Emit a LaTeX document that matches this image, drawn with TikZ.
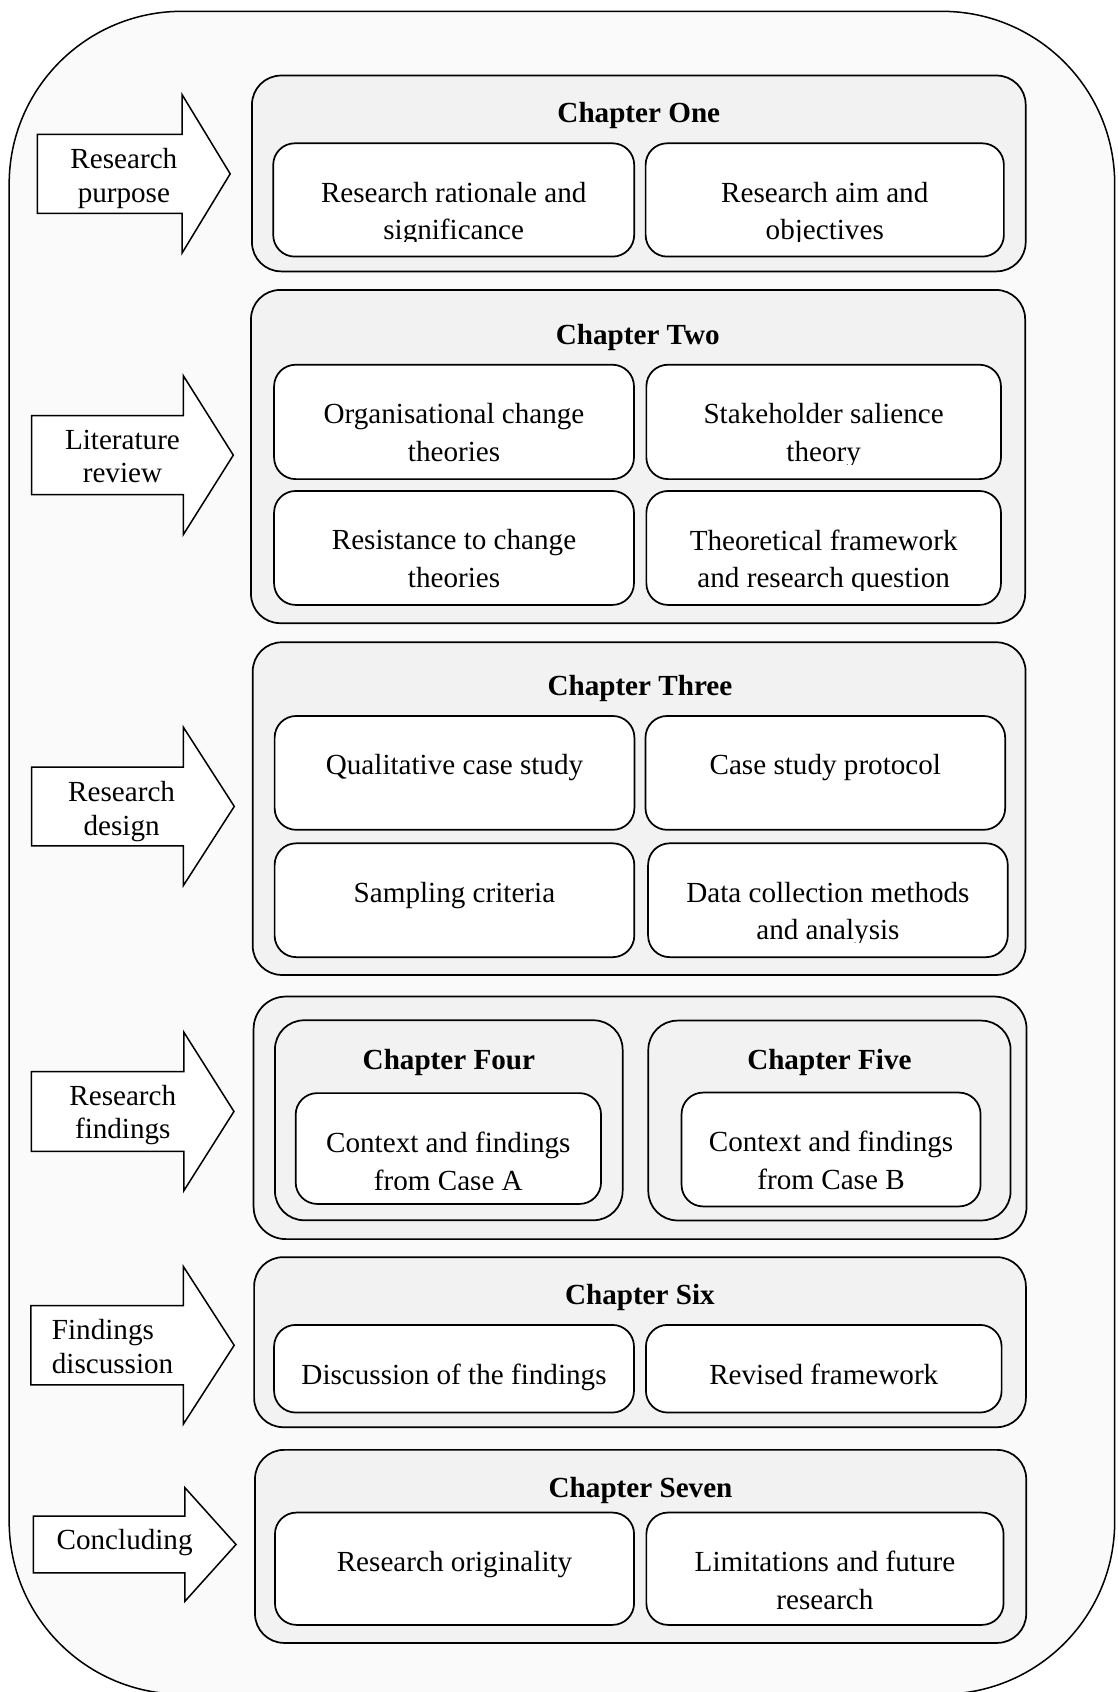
\documentclass[tikz,border=0pt]{standalone}
\usepackage{fontspec}
\setmainfont{Liberation Serif}
\usetikzlibrary{fit}

\definecolor{framefill}{HTML}{FAFAFA}
\definecolor{chapfill}{HTML}{F2F2F2}

\tikzset{
  outerframe/.style={draw=black, line width=1.4pt, fill=framefill, rounded corners=160pt, inner sep=0pt},
  chapbox/.style={draw=black, line width=1.6pt, fill=chapfill, rounded corners=27pt, inner sep=0pt},
  cellbox/.style={draw=black, line width=1.6pt, fill=white, rounded corners=20pt, inner sep=0pt},
  celltext/.style={inner sep=0pt, align=center, font=\fontsize{27}{35}\selectfont},
  chaptitle/.style={inner sep=0pt, anchor=base, font=\fontsize{27}{35}\selectfont\bfseries},
  stagearrow/.style={draw=black, line width=1.4pt, fill=white, line join=miter},
  stagetext/.style={inner sep=0pt, align=center, font=\fontsize{27}{31}\selectfont},
}

% white cell with its label; the label is clipped a little above the cell's lower edge
\newcommand\cell[6]{%
  \node[cellbox, fit={(#2,#3) (#4,#5)}] (#1) {};
  \begin{scope}
    \clip ([yshift=14.5pt]#1.south west) rectangle (#1.north east);
    \node[celltext, anchor=north] (#1-label) at ([yshift=-36.4pt]#1.north) {#6};
  \end{scope}}

% block arrow: left x, neck x, tip x, middle y, half body height, half head height
\newcommand\stagearrow[6]{%
  \draw[stagearrow] ({#1},{#4-#5}) -- ({#2},{#4-#5}) -- ({#2},{#4-#6}) -- ({#3},{#4})
    -- ({#2},{#4+#6}) -- ({#2},{#4+#5}) -- ({#1},{#4+#5}) -- cycle;}

\begin{document}
\begin{tikzpicture}[x=1pt, y=-1pt]
\useasboundingbox (0,0) rectangle (1036,1568);

% outer frame
\node[outerframe, fit={(8.5,10.5) (1033,1570)}] (frame) {};

% ---- stage arrows ----
\stagearrow{34.7}{168.8}{213.3}{161.1}{36.6}{73.3}
\node[stagetext, anchor=north] (purpose) at (114.8,137.4) {Research\\purpose};

\stagearrow{29.3}{169.9}{216.2}{421.8}{36.6}{73.6}
\node[stagetext, anchor=north] (review) at (113.5,398.2) {Literature\\review};

\stagearrow{29.3}{169.9}{217.1}{747.3}{36.5}{73.4}
\node[stagetext, anchor=north] (design) at (112.7,724.1) {Research\\design};

\stagearrow{29.1}{170.4}{216.8}{1030}{37}{73.4}
\node[stagetext, anchor=north] (findings) at (113.8,1005.2) {Research\\findings};

\stagearrow{28.7}{170}{217}{1246.7}{36.7}{72.9}
\node[stagetext, anchor=north west, align=left] (discussion) at (47.9,1222.8) {Findings\\discussion};

\stagearrow{30.9}{171.4}{218.7}{1431.3}{26.3}{52.6}
\node[stagetext, anchor=base] (concluding) at (115.5,1435.5) {Concluding};

% ---- Chapter One ----
\node[chapbox, fit={(233.5,70) (950.5,251.5)}] (ch1) {};
\node[chaptitle] (ch1-title) at (592,113.5) {Chapter One};
\cell{ch1a}{253.2}{132.8}{587.7}{237.8}{Research rationale and\\significance}
\cell{ch1b}{598.3}{132.8}{930.3}{237.8}{Research aim and\\objectives}

% ---- Chapter Two ----
\node[chapbox, fit={(232.6,268.7) (950,577.5)}] (ch2) {};
\node[chaptitle] (ch2-title) at (591,318.8) {Chapter Two};
\cell{ch2a}{254}{338}{587.5}{444}{Organisational change\\theories}
\cell{ch2b}{599}{338}{927.6}{444}{Stakeholder salience\\theory}
\cell{ch2c}{254}{455}{587.5}{560.6}{Resistance to change\\theories}
\cell{ch2d}{599}{455}{927.6}{560.6}{Theoretical framework\\and research question}

% ---- Chapter Three ----
\node[chapbox, fit={(234.2,595.2) (950.4,903.5)}] (ch3) {};
\node[chaptitle] (ch3-title) at (593,644.8) {Chapter Three};
\cell{ch3a}{254.5}{663.5}{587.9}{769}{Qualitative case study}
\cell{ch3b}{598.2}{663.5}{931.5}{769}{Case study protocol}
\cell{ch3c}{254.5}{781.5}{587.8}{887}{Sampling criteria}
\cell{ch3d}{600.6}{781.5}{933.9}{887}{Data collection methods\\and analysis}

% ---- Chapters Four and Five ----
\node[chapbox, rounded corners=30pt, fit={(235,923.5) (951.3,1148.3)}] (ch45) {};
\node[chapbox, fit={(254.8,945.5) (577,1130.8)}] (ch4) {};
\node[chaptitle] (ch4-title) at (416,990.8) {Chapter Four};
\cell{ch4a}{274}{1013}{557}{1115.7}{Context and findings\\from Case A}
\node[chapbox, fit={(600.8,945.8) (936.5,1131)}] (ch5) {};
\node[chaptitle] (ch5-title) at (768.6,990.8) {Chapter Five};
\cell{ch5a}{631.6}{1012.5}{908.7}{1118}{Context and findings\\from Case B}

% ---- Chapter Six ----
\node[chapbox, fit={(235.5,1165) (950.7,1322.6)}] (ch6) {};
\node[chaptitle] (ch6-title) at (593,1209) {Chapter Six};
\cell{ch6a}{254}{1227.8}{587.5}{1309}{Discussion of the findings}
\cell{ch6b}{598.6}{1227.8}{928.2}{1309}{Revised framework}

% ---- Chapter Seven ----
\node[chapbox, fit={(236.3,1343.6) (951,1522.5)}] (ch7) {};
\node[chaptitle] (ch7-title) at (593.6,1387.5) {Chapter Seven};
\cell{ch7a}{254.8}{1401.7}{587.6}{1505.8}{Research originality}
\cell{ch7b}{599}{1401.7}{930}{1505.8}{Limitations and future\\research}

\end{tikzpicture}
\end{document}
